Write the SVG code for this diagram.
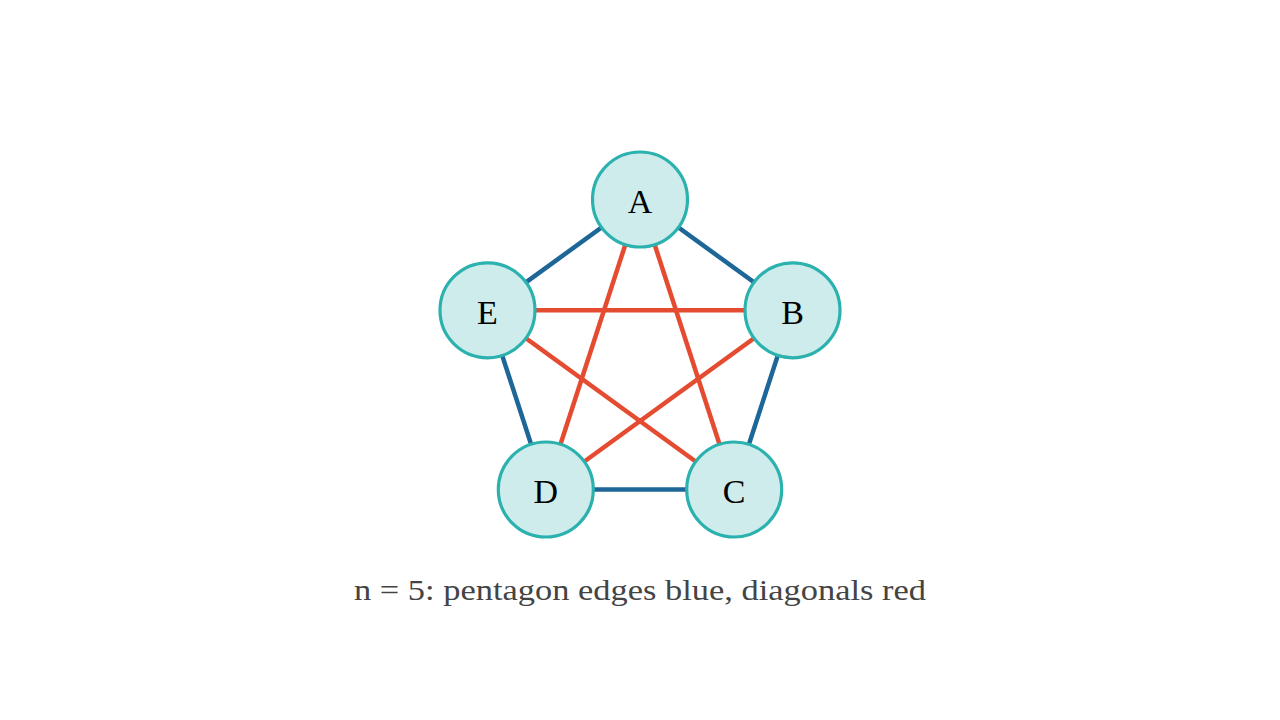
<svg xmlns="http://www.w3.org/2000/svg" width="1280" height="720" viewBox="0 0 1280 720">
<style>
.edge{stroke:#1d6698;stroke-width:4.5;fill:none}
.diag{stroke:#e54b30;stroke-width:4.5;fill:none}
.node circle{fill:#cdeceb;stroke:#2bb1ae;stroke-width:3.2}
.node text{font-family:"Liberation Serif","DejaVu Serif",serif;font-size:34px;fill:#000;text-anchor:middle;dominant-baseline:central}
.cap{font-family:"Liberation Serif","DejaVu Serif",serif;font-size:30px;fill:#444;text-anchor:middle}
</style>
<rect width="1280" height="720" fill="#fff"/>
<g id="connectors">
<line class="edge" x1="640" y1="199.5" x2="792.5" y2="310.3"/>
<line class="edge" x1="792.5" y1="310.3" x2="734.2" y2="489.5"/>
<line class="edge" x1="734.2" y1="489.5" x2="545.8" y2="489.5"/>
<line class="edge" x1="545.8" y1="489.5" x2="487.5" y2="310.3"/>
<line class="edge" x1="487.5" y1="310.3" x2="640" y2="199.5"/>
<line class="diag" x1="640" y1="199.5" x2="734.2" y2="489.5"/>
<line class="diag" x1="640" y1="199.5" x2="545.8" y2="489.5"/>
<line class="diag" x1="487.5" y1="310.3" x2="792.5" y2="310.3"/>
<line class="diag" x1="487.5" y1="310.3" x2="734.2" y2="489.5"/>
<line class="diag" x1="792.5" y1="310.3" x2="545.8" y2="489.5"/>
</g>
<g id="node-A" class="node"><circle cx="640" cy="199.5" r="47.5"/><text x="640" y="201">A</text></g>
<g id="node-B" class="node"><circle cx="792.5" cy="310.3" r="47.5"/><text x="792.5" y="312">B</text></g>
<g id="node-C" class="node"><circle cx="734.2" cy="489.5" r="47.5"/><text x="734.2" y="491">C</text></g>
<g id="node-D" class="node"><circle cx="545.8" cy="489.5" r="47.5"/><text x="545.8" y="491">D</text></g>
<g id="node-E" class="node"><circle cx="487.5" cy="310.3" r="47.5"/><text x="487.5" y="312">E</text></g>
<text class="cap" x="640" y="600" textLength="572" lengthAdjust="spacingAndGlyphs">n = 5: pentagon edges blue, diagonals red</text>
</svg>
